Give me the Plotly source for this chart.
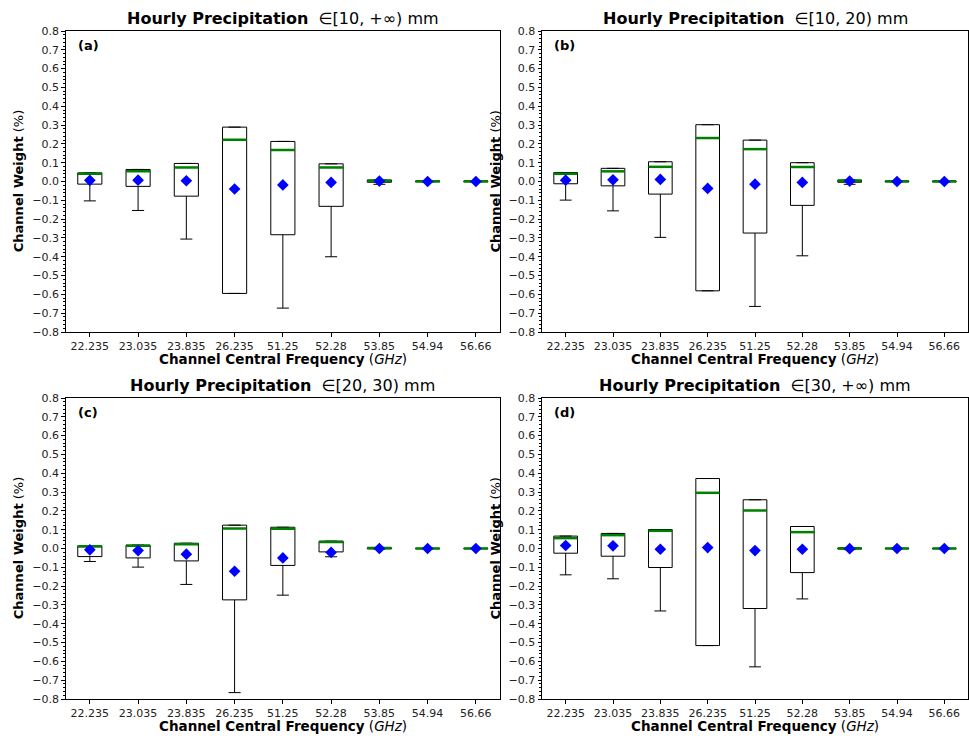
import plotly.graph_objects as go

# ---------------- data ----------------
categories = ["22.235", "23.035", "23.835", "26.235", "51.25", "52.28", "53.85", "54.94", "56.66"]

panel_labels = ["(a)", "(b)", "(c)", "(d)"]
panel_ranges = ["[10, +\u221e)", "[10, 20)", "[20, 30)", "[30, +\u221e)"]

# (a) [10, +inf)
q1_a = [-0.014, -0.026, -0.078, -0.595, -0.283, -0.132, -0.004, -0.002, -0.002]
med_a = [0.041, 0.055, 0.075, 0.222, 0.167, 0.075, 0.004, 0.001, 0.001]
q3_a = [0.046, 0.064, 0.096, 0.289, 0.213, 0.094, 0.008, 0.002, 0.002]
lo_a = [-0.103, -0.154, -0.306, -0.595, -0.673, -0.400, -0.015, -0.002, -0.002]
hi_a = [0.046, 0.064, 0.096, 0.289, 0.213, 0.094, 0.008, 0.002, 0.002]
mean_a = [0.006, 0.007, 0.004, -0.040, -0.018, -0.005, 0.002, 0.000, 0.000]

# (b) [10, 20)
q1_b = [-0.012, -0.023, -0.067, -0.581, -0.274, -0.127, -0.004, -0.002, -0.002]
med_b = [0.041, 0.054, 0.078, 0.231, 0.172, 0.077, 0.004, 0.001, 0.001]
q3_b = [0.048, 0.070, 0.105, 0.302, 0.220, 0.100, 0.008, 0.002, 0.002]
lo_b = [-0.099, -0.156, -0.297, -0.581, -0.664, -0.395, -0.015, -0.002, -0.002]
hi_b = [0.048, 0.070, 0.105, 0.302, 0.220, 0.100, 0.008, 0.002, 0.002]
mean_b = [0.007, 0.009, 0.011, -0.037, -0.014, -0.005, 0.002, 0.000, 0.000]

# (c) [20, 30)
q1_c = [-0.043, -0.050, -0.066, -0.273, -0.090, -0.018, -0.002, -0.001, -0.001]
med_c = [0.012, 0.014, 0.023, 0.106, 0.105, 0.034, 0.002, 0.000, 0.000]
q3_c = [0.014, 0.018, 0.028, 0.124, 0.113, 0.039, 0.003, 0.001, 0.001]
lo_c = [-0.069, -0.099, -0.191, -0.766, -0.248, -0.044, -0.002, -0.001, -0.001]
hi_c = [0.014, 0.018, 0.028, 0.124, 0.113, 0.039, 0.003, 0.001, 0.001]
mean_c = [-0.007, -0.011, -0.030, -0.121, -0.050, -0.021, 0.000, 0.000, 0.000]

# (d) [30, +inf)
q1_d = [-0.025, -0.041, -0.101, -0.516, -0.319, -0.128, -0.003, -0.001, -0.001]
med_d = [0.055, 0.071, 0.094, 0.296, 0.202, 0.087, 0.001, 0.000, 0.000]
q3_d = [0.066, 0.080, 0.101, 0.372, 0.259, 0.117, 0.003, 0.001, 0.001]
lo_d = [-0.140, -0.161, -0.332, -0.516, -0.629, -0.268, -0.006, -0.001, -0.001]
hi_d = [0.066, 0.080, 0.101, 0.372, 0.259, 0.117, 0.003, 0.001, 0.001]
mean_d = [0.016, 0.014, -0.004, 0.005, -0.011, -0.004, -0.001, 0.000, 0.000]

panels = [
    (q1_a, med_a, q3_a, lo_a, hi_a, mean_a),
    (q1_b, med_b, q3_b, lo_b, hi_b, mean_b),
    (q1_c, med_c, q3_c, lo_c, hi_c, mean_c),
    (q1_d, med_d, q3_d, lo_d, hi_d, mean_d),
]

# ---------------- layout geometry ----------------
W, H = 969, 736
x_domains = [(65.7 / W, 500 / W), (542 / W, 968 / W)]
y_domains = [(1 - 332 / H, 1 - 31 / H), (1 - 699 / H, 1 - 398 / H)]

positions = list(range(1, len(categories) + 1))
box_w = 0.5

FONT = "DejaVu Sans"
fig = go.Figure()

y_ticks = [round(-0.8 + 0.1 * k, 1) for k in range(17)]

for idx, (q1, med, q3, lo, hi, mn) in enumerate(panels):
    r, c = divmod(idx, 2)
    n = idx + 1
    xa = "x" if n == 1 else f"x{n}"
    ya = "y" if n == 1 else f"y{n}"

    fig.add_trace(go.Box(
        x=positions, q1=q1, median=med, q3=q3,
        lowerfence=lo, upperfence=hi,
        width=box_w, whiskerwidth=0.5,
        fillcolor="white", line=dict(color="black", width=1),
        xaxis=xa, yaxis=ya, showlegend=False, hoverinfo="skip",
    ))

    mx, my = [], []
    for p, m in zip(positions, med):
        mx += [p - box_w / 2, p + box_w / 2, None]
        my += [m, m, None]
    fig.add_trace(go.Scatter(
        x=mx, y=my, mode="lines", line=dict(color="#008000", width=2.5),
        xaxis=xa, yaxis=ya, showlegend=False, hoverinfo="skip",
    ))

    fig.add_trace(go.Scatter(
        x=positions, y=mn, mode="markers",
        marker=dict(symbol="diamond", size=9, color="#0000ff", line=dict(width=0)),
        xaxis=xa, yaxis=ya, showlegend=False, hoverinfo="skip",
    ))

    xd = x_domains[c]
    yd = y_domains[r]
    xkey = "xaxis" if n == 1 else f"xaxis{n}"
    ykey = "yaxis" if n == 1 else f"yaxis{n}"
    fig.layout[xkey] = dict(
        domain=list(xd), anchor=ya, range=[0.5, 9.5], automargin=False,
        tickmode="array", tickvals=positions, ticktext=categories,
        ticks="outside", ticklen=3.5, tickwidth=1, tickcolor="black",
        showline=True, linecolor="black", linewidth=1, mirror=True,
        showgrid=False, zeroline=False,
        tickfont=dict(family=FONT, size=11, color="#222"),
    )
    fig.layout[ykey] = dict(
        domain=list(yd), anchor=xa, range=[-0.8, 0.8], automargin=False,
        tickmode="array", tickvals=y_ticks, tickformat=".1f",
        ticks="outside", ticklen=3.5, tickwidth=1, tickcolor="black",
        minor=dict(dtick=0.02, tick0=-0.8, ticks="outside", ticklen=2, tickwidth=0.6, tickcolor="black"),
        showline=True, linecolor="black", linewidth=1, mirror=True,
        showgrid=False, zeroline=False,
        tickfont=dict(family=FONT, size=11, color="#222"),
    )

    xc = (xd[0] + xd[1]) / 2
    # title
    fig.add_annotation(
        xref="paper", yref="paper", x=xc, y=yd[1] + 13 / H,
        xanchor="center", yanchor="middle", showarrow=False,
        text=f"<b>Hourly Precipitation</b>\u00a0\u00a0\u2208{panel_ranges[idx]} mm",
        font=dict(family=FONT, size=16, color="black"),
    )
    # x-axis title
    fig.add_annotation(
        xref="paper", yref="paper", x=xc, y=yd[0] - 27 / H,
        xanchor="center", yanchor="middle", showarrow=False,
        text="<b>Channel Central Frequency</b> (<i>GHz</i>)",
        font=dict(family=FONT, size=13.5, color="black"),
    )
    # y-axis title
    fig.add_annotation(
        xref="paper", yref="paper", x=(xd[0] * W - 47) / W, y=(yd[0] + yd[1]) / 2,
        xanchor="center", yanchor="middle", showarrow=False, textangle=-90,
        text="<b>Channel Weight</b> (%)",
        font=dict(family=FONT, size=13, color="black"),
    )
    # panel label
    fig.add_annotation(
        xref="paper", yref="paper", x=xd[0] + 10 / W, y=yd[1] - 14 / H,
        xanchor="left", yanchor="middle", showarrow=False,
        text=f"<b>{panel_labels[idx]}</b>",
        font=dict(family=FONT, size=13, color="black"),
    )

fig.update_layout(
    template="none",
    width=W, height=H,
    margin=dict(l=0, r=0, t=0, b=0, pad=0, autoexpand=False),
    paper_bgcolor="white", plot_bgcolor="white",
    showlegend=False,
)

fig.write_html("out.html")
